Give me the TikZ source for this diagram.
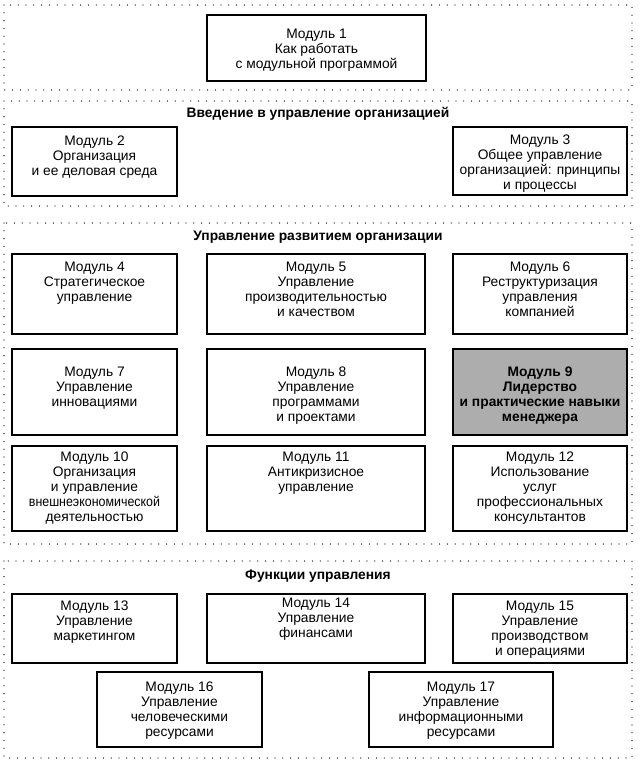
\documentclass[tikz,border=0pt]{standalone}
\usepackage{fontspec}
\setmainfont{Liberation Sans}
\begin{document}
\begin{tikzpicture}[x=1pt,y=-1pt,
  section/.style={draw=black,line width=1.3pt,dash pattern=on 0pt off 7.8pt,line cap=round},
  modbox/.style={draw=black,line width=1.1pt},
  hibox/.style={draw=black,line width=2.6pt,fill=black!32},
  modtxt/.style={anchor=north,align=center,inner sep=0pt,font=\fontsize{13.8}{14.8}\selectfont},
  hitxt/.style={modtxt,font=\fontsize{13.8}{14.8}\selectfont\bfseries},
  ttl/.style={inner sep=0pt,font=\fontsize{13.8}{14.8}\selectfont\bfseries}]
\useasboundingbox (0,0) rectangle (642,764);
% sections
\draw[section] (4,5) rectangle (632,90);
\draw[section] (4,101) rectangle (632,206);
\draw[section] (4,223) rectangle (632,544);
\draw[section] (4,561) rectangle (632,758);
\node[ttl] (t2) at (318,114) {Введение в управление организацией};
\node[ttl] (t3) at (318,237) {Управление развитием организации};
\node[ttl] (t4) at (318,576) {Функции управления};
% boxes
\draw[modbox] (207,15) rectangle (426,81);
\node[modtxt] (m1) at (316.5,29) {Модуль 1\\Как работать\\с модульной программой};
\draw[modbox] (12,127) rectangle (177,196);
\node[modtxt] (m2) at (94.5,136) {Модуль 2\\Организация\\и ее деловая среда};
\draw[modbox] (453,127) rectangle (627,195);
\node[modtxt] (m3) at (540,135) {Модуль 3\\Общее управление\\организацией: принципы\\и процессы};
\draw[modbox] (12,254) rectangle (177,334);
\node[modtxt] (m4) at (94.5,262) {Модуль 4\\Стратегическое\\управление};
\draw[modbox] (207,254) rectangle (425,334);
\node[modtxt] (m5) at (316,262) {Модуль 5\\Управление\\производительностью\\и качеством};
\draw[modbox] (453,254) rectangle (627,334);
\node[modtxt] (m6) at (540,262) {Модуль 6\\Реструктуризация\\управления\\компанией};
\draw[modbox] (12,349) rectangle (177,435);
\node[modtxt] (m7) at (94.5,367) {Модуль 7\\Управление\\инновациями};
\draw[modbox] (207,349) rectangle (425,435);
\node[modtxt] (m8) at (316,367) {Модуль 8\\Управление\\программами\\и проектами};
\draw[hibox] (453,349) rectangle (627,435);
\node[hitxt] (m9) at (540,367) {Модуль 9\\Лидерство\\и практические навыки\\менеджера};
\draw[modbox] (12,446) rectangle (177,531);
\node[modtxt] (m10) at (94.5,452) {Модуль 10\\Организация\\и управление\\\scalebox{0.9}[1]{внешнеэкономической}\\деятельностью};
\draw[modbox] (207,446) rectangle (425,531);
\node[modtxt] (m11) at (316,452) {Модуль 11\\Антикризисное\\управление};
\draw[modbox] (453,446) rectangle (627,531);
\node[modtxt] (m12) at (540,452) {Модуль 12\\Использование\\услуг\\профессиональных\\консультантов};
\draw[modbox] (12,594) rectangle (177,663);
\node[modtxt] (m13) at (94.5,601) {Модуль 13\\Управление\\маркетингом};
\draw[modbox] (207,594) rectangle (425,663);
\node[modtxt] (m14) at (316,598) {Модуль 14\\Управление\\финансами};
\draw[modbox] (453,594) rectangle (627,663);
\node[modtxt] (m15) at (540,601) {Модуль 15\\Управление\\производством\\и операциями};
\draw[modbox] (97,672) rectangle (262,747);
\node[modtxt] (m16) at (179.5,682) {Модуль 16\\Управление\\человеческими\\ресурсами};
\draw[modbox] (369,672) rectangle (553,747);
\node[modtxt] (m17) at (461,682) {Модуль 17\\Управление\\информационными\\ресурсами};
\end{tikzpicture}
\end{document}
